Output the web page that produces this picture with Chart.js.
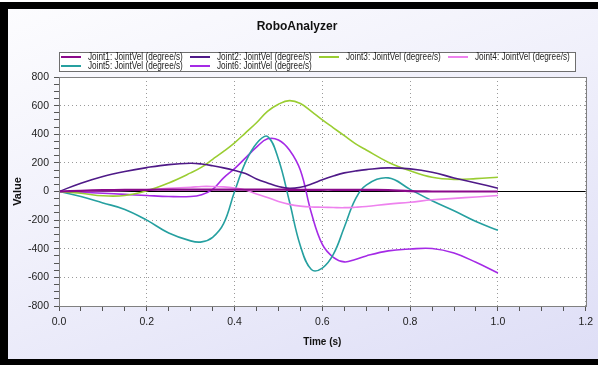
<!DOCTYPE html>
<html>
<head>
<meta charset="utf-8">
<script src="https://cdn.jsdelivr.net/npm/chart.js@4.4.1/dist/chart.umd.min.js"></script>
<style>
  html, body { margin: 0; padding: 0; background: #fff; }
  #frame { position: absolute; left: 0; top: 2px; width: 598px; height: 363px; background: #000; }
  #panel {
    position: absolute; left: 8px; top: 9px; width: 590px; height: 350px;
    background: linear-gradient(160deg, #fcfcfe 0%, #f0f0fb 45%, #dedef6 100%);
  }
  #chartviewport { display: block; }
</style>
</head>
<body>
<div id="frame"></div>
<div id="panel"><canvas id="chartviewport" width="590" height="350"></canvas></div>
<script>
// time samples (s) shared by all joints
const times = [0, 0.05, 0.1, 0.15, 0.2, 0.25, 0.3, 0.325, 0.35, 0.375, 0.4, 0.425, 0.45, 0.475, 0.5,
               0.525, 0.55, 0.575, 0.6, 0.625, 0.65, 0.675, 0.7, 0.75, 0.8, 0.85, 0.9, 0.95, 1.0];

// joint velocities (degree/s)
const joint1 = [0, 5, 9, 11, 12, 13, 13, 13, 13, 13, 13, 13, 13, 13, 13,
                12, 12, 12, 12, 12, 11, 11, 11, 10, 2, 0, 0, 0, 0];
const joint2 = [0, 58, 105, 140, 167, 188, 197, 192, 180, 165, 147, 125, 88, 60, 35,
                22, 30, 52, 82, 108, 130, 143, 153, 165, 158, 135, 95, 60, 23];
const joint3 = [0, -12, -30, -28, 5, 60, 130, 170, 225, 280, 340, 410, 480, 560, 610,
                635, 615, 560, 500, 445, 390, 335, 290, 205, 145, 100, 85, 90, 100];
const joint4 = [0, 2, 5, 8, 12, 22, 30, 35, 35, 32, 24, 10, -18, -42, -70,
                -90, -102, -108, -110, -112, -113, -110, -105, -88, -75, -58, -48, -38, -28];
const joint5 = [0, -35, -80, -125, -200, -290, -345, -352, -320, -225, 0, 205, 336, 385, 225,
                -70, -380, -545, -535, -440, -250, -55, 45, 95, 15, -65, -135, -210, -271];
const joint6 = [0, -5, -12, -20, -28, -35, -35, -22, 15, 95, 160, 235, 310, 368, 360,
                290, 148, -150, -370, -460, -492, -475, -450, -415, -402, -398, -430, -495, -570];

const seriesNames = ['Joint1: JointVel (degree/s)', 'Joint2: JointVel (degree/s)', 'Joint3: JointVel (degree/s)',
                     'Joint4: JointVel (degree/s)', 'Joint5: JointVel (degree/s)', 'Joint6: JointVel (degree/s)'];
const seriesColors = ['#8b0a8b', '#4f1a88', '#9acd32', '#ee82ee', '#26a0a0', '#a52ae6'];
const seriesValues = [joint1, joint2, joint3, joint4, joint5, joint6];

const xTicks = [0, 0.2, 0.4, 0.6, 0.8, 1.0, 1.2];
const yTicks = [-800, -600, -400, -200, 0, 200, 400, 600, 800];

const FONT = "'Liberation Sans', Arial, sans-serif";
Chart.defaults.font.family = FONT;
Chart.defaults.color = '#222';

const datasets = seriesValues.map(function (vals, s) {
    return {
        label: seriesNames[s],
        data: times.map(function (t, i) { return { x: t, y: vals[i] }; }),
        borderColor: seriesColors[s],
        backgroundColor: seriesColors[s],
        borderWidth: s === 0 ? 2.2 : 1.6,
        pointRadius: 0,
        tension: 0.4,
        fill: false
    };
});

// white plot area + gray frame round it
const plotFrame = {
    id: 'plotFrame',
    beforeDraw(chart) {
        const a = chart.chartArea, ctx = chart.ctx;
        ctx.save();
        ctx.fillStyle = '#fff';
        ctx.fillRect(a.left, a.top, a.right - a.left, a.bottom - a.top);
        ctx.restore();
    },
    afterDraw(chart) {
        const a = chart.chartArea, ctx = chart.ctx;
        ctx.save();
        ctx.strokeStyle = '#808080';
        ctx.lineWidth = 1;
        ctx.strokeRect(Math.round(a.left) + 0.5, Math.round(a.top) + 0.5,
                       Math.round(a.right - a.left), Math.round(a.bottom - a.top));
        ctx.restore();
    }
};

// legend in a box, 4 columns, narrow text
const boxLegend = {
    id: 'boxLegend',
    afterDraw(chart) {
        const ctx = chart.ctx;
        const bx = 51, by = 43, bw = 516, bh = 19, col = 129, squeeze = 0.82;
        ctx.save();
        ctx.fillStyle = '#fff';
        ctx.fillRect(bx, by, bw, bh);
        ctx.strokeStyle = '#6e6e6e';
        ctx.lineWidth = 1;
        ctx.strokeRect(bx + 0.5, by + 0.5, bw, bh);
        ctx.font = '10px ' + FONT;
        ctx.textBaseline = 'middle';
        ctx.textAlign = 'left';
        for (var i = 0; i < seriesNames.length; i++) {
            const cx = bx + 2 + (i % 4) * col;
            const cy = by + 5 + Math.floor(i / 4) * 9;
            ctx.strokeStyle = seriesColors[i];
            ctx.lineWidth = 2;
            ctx.beginPath();
            ctx.moveTo(cx, cy);
            ctx.lineTo(cx + 20, cy);
            ctx.stroke();
            ctx.save();
            ctx.translate(cx + 27, cy + 0.5);
            ctx.scale(squeeze, 1);
            ctx.fillStyle = '#222';
            ctx.fillText(seriesNames[i], 0, 0);
            ctx.restore();
        }
        ctx.restore();
    }
};

function isOn(v, list) {
    for (var i = 0; i < list.length; i++) { if (Math.abs(v - list[i]) < 1e-6) return true; }
    return false;
}

const config = {
    type: 'line',
    data: { datasets: datasets },
    options: {
        responsive: false,
        animation: false,
        layout: { padding: { left: 0, right: 12, top: 0, bottom: 0 } },
        plugins: {
            legend: { display: false },
            tooltip: { enabled: false },
            title: {
                display: true,
                text: 'RoboAnalyzer',
                color: '#111',
                font: { size: 12, weight: 'bold', lineHeight: 1.2 },
                padding: { top: 10.8, bottom: 42.8 }
            }
        },
        scales: {
            x: {
                type: 'linear',
                min: 0, max: 1.2,
                afterFit: function (scale) { scale.height = 53; },
                ticks: {
                    stepSize: 0.05,
                    autoSkip: false,
                    maxRotation: 0,
                    padding: 5,
                    font: { size: 10.5 },
                    color: '#222',
                    callback: function (v) { return isOn(v, xTicks) ? v.toFixed(1) : ''; }
                },
                grid: {
                    color: function (c) { return isOn(c.tick.value, xTicks) ? '#9a9a9a' : 'rgba(0,0,0,0)'; },
                    tickColor: '#555',
                    tickLength: 5,
                    lineWidth: 1
                },
                border: { color: '#555', dash: [1, 3] },
                title: {
                    display: true,
                    text: 'Time (s)',
                    color: '#111',
                    font: { size: 10, weight: 'bold', lineHeight: 1.2 },
                    padding: { top: 0, bottom: 10.3 }
                }
            },
            y: {
                min: -800, max: 800,
                afterFit: function (scale) { scale.width = 51; },
                ticks: {
                    stepSize: 50,
                    autoSkip: false,
                    padding: 5,
                    font: { size: 10.5 },
                    color: '#222',
                    callback: function (v) { return isOn(v, yTicks) ? String(v) : ''; }
                },
                grid: {
                    color: function (c) {
                        if (c.tick.value === 0) return '#000';
                        return isOn(c.tick.value, yTicks) ? '#9a9a9a' : 'rgba(0,0,0,0)';
                    },
                    tickColor: '#555',
                    tickLength: 5,
                    lineWidth: 1
                },
                border: {
                    color: '#555',
                    dash: function (c) { return c.tick && c.tick.value === 0 ? [] : [1, 3]; }
                },
                title: {
                    display: true,
                    text: 'Value',
                    color: '#111',
                    font: { size: 11, weight: 'bold', lineHeight: 1.2 },
                    padding: { top: 3.4, bottom: 0 }
                }
            }
        }
    },
    plugins: [plotFrame, boxLegend]
};

const chart = new Chart(document.getElementById('chartviewport'), config);
</script>
</body>
</html>
